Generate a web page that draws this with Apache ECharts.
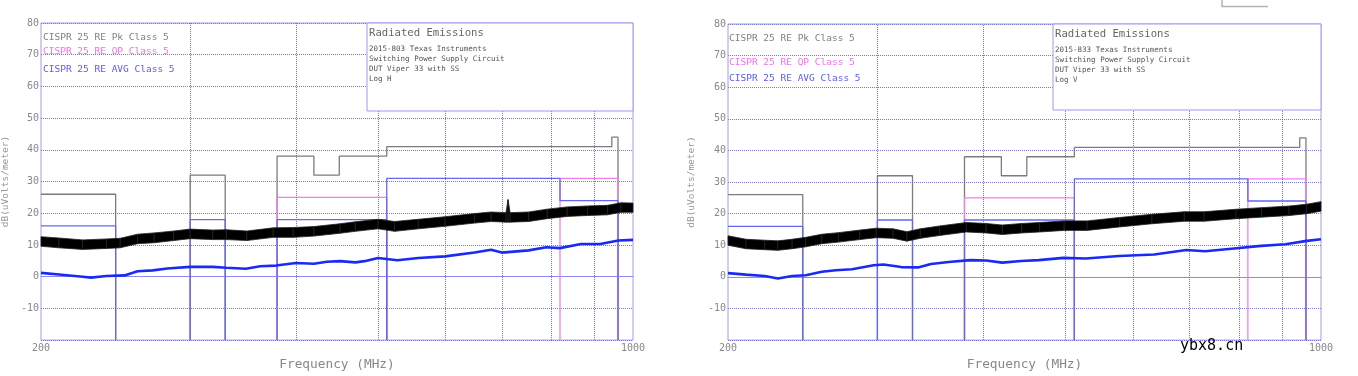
<!DOCTYPE html>
<html>
<head>
<meta charset="utf-8">
<script src="https://cdn.jsdelivr.net/npm/echarts@6/dist/echarts.min.js"></script>
<style>
  html, body { margin: 0; padding: 0; background: #fff; }
  #chart { width: 1358px; height: 376px; }
</style>
</head>
<body>
<div id="chart"></div>
<script>
// CISPR 25 class 5 limits (MHz, dBuV/m), same on both plots
const pkLimit = [
  [[200, 26], [245, 26], [245, -20]],
  [[300, -20], [300, 32], [330, 32], [330, -20]],
  [[380, -20], [380, 38], [420, 38], [420, 32], [450, 32], [450, 38], [512, 38], [512, 41], [944, 41], [944, 44], [960, 44], [960, -20]]
]
const qpLimit = [
  [[380, -20], [380, 25], [512, 25], [512, -20]],
  [[820, -20], [820, 31], [960, 31], [960, -20]]
]
const avgLimit = [
  [[200, 16], [245, 16], [245, -20]],
  [[300, -20], [300, 18], [330, 18], [330, -20]],
  [[380, -20], [380, 18], [512, 18], [512, -20]],
  [[512, -20], [512, 31], [820, 31], [820, 24], [960, 24], [960, -20]]
]

// horizontal polarisation (left)
const pkFreqH = [200, 210, 224, 239, 248, 260, 272, 287, 300, 319, 331, 350, 376, 397, 420, 451, 470, 500, 523, 558, 600, 650, 680, 708, 712, 716, 753, 792, 836, 884, 933, 968, 1000]
const pkHiH = [12.6, 12.2, 11.6, 11.9, 12.1, 13.4, 13.8, 14.4, 15.0, 14.7, 14.8, 14.4, 15.4, 15.5, 15.8, 16.7, 17.3, 18.1, 17.4, 18.1, 18.9, 19.9, 20.4, 20.2, 24.3, 20.2, 20.4, 21.3, 22.0, 22.3, 22.5, 23.3, 23.2]
const pkLoH = [9.6, 9.1, 8.6, 8.9, 9.1, 10.4, 10.7, 11.4, 12.0, 11.7, 11.7, 11.4, 12.4, 12.4, 12.8, 13.7, 14.3, 15.1, 14.3, 15.1, 15.9, 16.9, 17.4, 17.2, 17.2, 17.2, 17.4, 18.3, 19.0, 19.3, 19.5, 20.3, 20.3]
const avgFreqH = [200, 210, 224, 229, 239, 251, 260, 271, 282, 300, 319, 331, 349, 363, 379, 400, 420, 435, 451, 470, 482, 500, 527, 558, 600, 650, 680, 700, 753, 790, 820, 868, 915, 961, 1000]
const avgH = [1.2, 0.7, 0.0, -0.3, 0.2, 0.4, 1.7, 2.0, 2.6, 3.1, 3.1, 2.8, 2.5, 3.3, 3.5, 4.3, 4.1, 4.7, 4.9, 4.5, 4.9, 5.9, 5.2, 5.9, 6.4, 7.6, 8.5, 7.6, 8.3, 9.3, 9.0, 10.3, 10.3, 11.4, 11.6]

// vertical polarisation (right)
const pkFreqV = [200, 210, 221, 229, 238, 247, 258, 270, 286, 299, 313, 325, 337, 355, 382, 403, 421, 444, 466, 498, 530, 579, 632, 690, 728, 794, 851, 917, 962, 1000]
const pkHiV = [13.0, 11.9, 11.6, 11.4, 11.9, 12.5, 13.5, 14.0, 14.8, 15.4, 15.2, 14.3, 15.2, 16.1, 17.2, 16.9, 16.4, 16.9, 17.2, 17.7, 17.7, 18.8, 19.8, 20.6, 20.6, 21.4, 21.9, 22.4, 23.0, 23.8]
const pkLoV = [10.0, 8.9, 8.6, 8.4, 8.9, 9.5, 10.5, 11.0, 11.8, 12.4, 12.2, 11.3, 12.2, 13.1, 14.2, 13.9, 13.4, 13.9, 14.2, 14.7, 14.7, 15.8, 16.8, 17.6, 17.6, 18.4, 18.9, 19.4, 20.0, 20.8]
const avgFreqV = [200, 210, 221, 229, 238, 247, 258, 268, 280, 297, 305, 320, 335, 347, 364, 386, 403, 421, 443, 465, 497, 528, 578, 636, 694, 730, 790, 850, 908, 962, 1000]
const avgV = [1.2, 0.7, 0.3, -0.5, 0.3, 0.5, 1.6, 2.1, 2.4, 3.7, 3.9, 3.1, 3.0, 4.1, 4.7, 5.3, 5.2, 4.5, 5.0, 5.3, 6.0, 5.8, 6.6, 7.1, 8.5, 8.1, 9.0, 9.8, 10.3, 11.4, 11.9]

const freqGrid = [300, 400, 500, 600, 700, 800, 900]
const legendNames = ['CISPR 25 RE Pk Class 5', 'CISPR 25 RE QP Class 5', 'CISPR 25 RE AVG Class 5']
const infoTitle = 'Radiated Emissions'
const infoLinesH = ['2015-803 Texas Instruments', 'Switching Power Supply Circuit', 'DUT Viper 33 with SS', 'Log H']
const infoLinesV = ['2015-833 Texas Instruments', 'Switching Power Supply Circuit', 'DUT Viper 33 with SS', 'Log V']

const MONO = '"DejaVu Sans Mono", "Liberation Mono", monospace'
const PK_C = '#7c7c7c'
const QP_C = '#f07ef0'
const AVG_C = '#6666ee'

const chart = echarts.init(document.getElementById('chart'))

function limitSeries(segs, color, i) {
  return segs.map((s) => ({
    type: 'line', xAxisIndex: i, yAxisIndex: i, data: s, symbol: 'none',
    lineStyle: { color, width: 1.3 }, silent: true, z: 3
  }))
}

// peak trace drawn as a filled band between its low and high envelope
function bandSeries(i, freq, hi, lo) {
  return {
    type: 'custom', xAxisIndex: i, yAxisIndex: i, z: 5, silent: true,
    data: freq.map((f, k) => [f, lo[k], hi[k]]),
    encode: { x: 0, y: [1, 2] },
    renderItem(params, api) {
      const k = params.dataIndex
      if (k >= freq.length - 1) return null
      const pts = [
        api.coord([freq[k], hi[k]]), api.coord([freq[k + 1], hi[k + 1]]),
        api.coord([freq[k + 1], lo[k + 1]]), api.coord([freq[k], lo[k]])
      ]
      return {
        type: 'polygon', shape: { points: pts },
        style: { fill: '#000', stroke: '#222', lineWidth: 0.8 }
      }
    }
  }
}

function panelSeries(i, fPk, hi, lo, fAvg, avg) {
  return [
    ...limitSeries(pkLimit, PK_C, i),
    ...limitSeries(qpLimit, QP_C, i),
    ...limitSeries(avgLimit, AVG_C, i),
    bandSeries(i, fPk, hi, lo),
    {
      type: 'line', xAxisIndex: i, yAxisIndex: i, symbol: 'none', z: 6,
      data: fAvg.map((f, k) => [f, avg[k]]),
      lineStyle: { color: '#1a2af2', width: 2.6 },
      markLine: {
        silent: true, symbol: 'none', label: { show: false },
        lineStyle: { type: 'dotted', color: '#6c6cee', width: 1 },
        data: freqGrid.map((f) => ({ xAxis: f }))
      }
    }
  ]
}

function legendTexts(x, ys) {
  const colors = ['#808080', '#f070f0', '#5c5cf0']
  return legendNames.map((t, k) => ({
    type: 'text', x, y: ys[k], z: 100,
    style: { text: t, fill: colors[k], font: '9.5px ' + MONO, textVerticalAlign: 'middle' }
  }))
}

function infoBox(x, y, w, h, lines) {
  return [
    { type: 'rect', z: 90, shape: { x, y, width: w, height: h }, style: { fill: '#fff', stroke: '#9a9af0', lineWidth: 1 } },
    { type: 'text', z: 100, x: x + 2, y: y + 10, style: { text: infoTitle, fill: '#666', font: '10.6px ' + MONO, textVerticalAlign: 'middle' } },
    ...lines.map((t, k) => ({
      type: 'text', z: 100, x: x + 2, y: y + 26 + k * 9.9,
      style: { text: t, fill: '#555', font: '7.5px ' + MONO, textVerticalAlign: 'middle' }
    }))
  ]
}

const xAxisBase = {
  type: 'log', logBase: 10, min: 200, max: 1000,
  name: 'Frequency (MHz)', nameLocation: 'middle', nameGap: 17,
  nameTextStyle: { color: '#888', fontSize: 12.8, fontFamily: MONO },
  axisLine: { show: true, lineStyle: { color: '#8a8af0', width: 1.2 } },
  axisTick: { show: false },
  axisLabel: { color: '#888', fontSize: 10, fontFamily: MONO, margin: 3, formatter: (v) => String(Math.round(v)) },
  splitLine: { show: false }, minorSplitLine: { show: false }
}
const yAxisBase = {
  type: 'value', min: -20, max: 80, interval: 10,
  name: 'dB(uVolts/meter)', nameLocation: 'middle', nameGap: 30,
  nameTextStyle: { color: '#999', fontSize: 9.5, fontFamily: MONO },
  axisLine: { show: false }, axisTick: { show: false },
  axisLabel: { color: '#888', fontSize: 10, fontFamily: MONO, margin: 2, formatter: (v) => (v === -20 ? '' : String(v)) },
  splitLine: { show: true, lineStyle: { type: 'dotted', color: '#7676ee', width: 1 } }
}

chart.setOption({
  animation: false,
  backgroundColor: '#fff',
  grid: [
    { left: 41, top: 23, width: 592, height: 322, show: true, borderColor: '#9c9cf2', borderWidth: 1 },
    { left: 728, top: 24, width: 593, height: 317, show: true, borderColor: '#9c9cf2', borderWidth: 1 }
  ],
  xAxis: [
    { ...xAxisBase, gridIndex: 0 },
    { ...xAxisBase, gridIndex: 1, nameGap: 16 }
  ],
  yAxis: [
    { ...yAxisBase, gridIndex: 0 },
    { ...yAxisBase, gridIndex: 1, nameGap: 31 }
  ],
  series: [
    ...panelSeries(0, pkFreqH, pkHiH, pkLoH, avgFreqH, avgH),
    ...panelSeries(1, pkFreqV, pkHiV, pkLoV, avgFreqV, avgV)
  ],
  graphic: [
    ...infoBox(367, 23, 266, 88, infoLinesH),
    ...infoBox(1053, 24, 268, 86, infoLinesV),
    ...legendTexts(43, [38, 52, 70]),
    ...legendTexts(729, [39, 63, 79]),
    { type: 'polyline', z: 100, shape: { points: [[1222, 0], [1222, 6.5], [1268, 6.5]] }, style: { stroke: '#b4b4b4', lineWidth: 1.5, fill: null } },
    { type: 'text', z: 100, x: 1180, y: 346, style: { text: 'ybx8.cn', fill: '#000', font: '15px ' + MONO, textVerticalAlign: 'middle' } }
  ]
})
</script>
</body>
</html>
